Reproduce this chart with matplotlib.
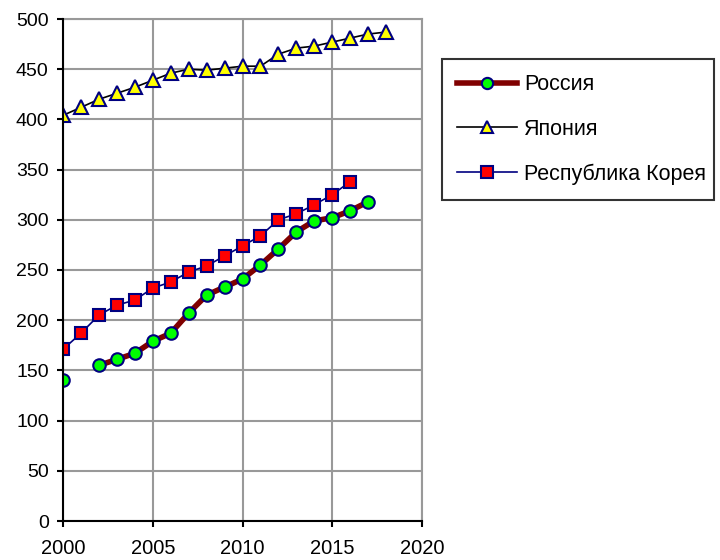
import matplotlib
matplotlib.use("Agg")
import matplotlib.pyplot as plt
import numpy as np

plt.rcParams['font.family'] = ['Liberation Sans', 'DejaVu Sans']

# data (2001 has no value for Russia)
years_ru = list(range(2000, 2018))
russia = [140, np.nan, 155, 161, 167, 179, 187, 207, 225, 233, 241,
          255, 271, 288, 299, 302, 309, 318]

years_jp = list(range(2000, 2019))
japan = [404, 412, 420, 426, 432, 439, 446, 450, 449, 451,
         453, 453, 465, 471, 473, 477, 481, 485, 487]

years_kr = list(range(2000, 2017))
korea = [171, 187, 205, 215, 220, 232, 238, 248, 254, 264,
         274, 284, 300, 306, 315, 325, 338]

labels = ["Россия", "Япония", "Республика Корея"]

fig = plt.figure(figsize=(7.2, 5.6), dpi=100)
ax = fig.add_axes([63 / 720, 39 / 560, 359 / 720, 502 / 560])

ax.plot(years_ru, russia, color='#800000', lw=4, marker='o', ms=9,
        mfc='#00ff00', mec='#000080', mew=1.5, label=labels[0], zorder=3)
ax.plot(years_jp, japan, color='black', lw=1.2, marker='^', ms=10,
        mfc='#ffff00', mec='#000080', mew=1.5, label=labels[1], zorder=3)
ax.plot(years_kr, korea, color='#000080', lw=1.2, marker='s', ms=9,
        mfc='#ff0000', mec='#000080', mew=1.5, label=labels[2], zorder=3)

ax.set_xlim(2000, 2020)
ax.set_ylim(0, 500)
ax.set_xticks(range(2000, 2021, 5))
ax.set_yticks(range(0, 501, 50))
ax.grid(True, color='#999999', lw=1.5)
ax.set_axisbelow(True)

for s in ['top', 'right']:
    ax.spines[s].set_color('#999999')
    ax.spines[s].set_linewidth(1.5)
for s in ['left', 'bottom']:
    ax.spines[s].set_color('black')
    ax.spines[s].set_linewidth(1.5)
    ax.spines[s].set_zorder(4)

ax.tick_params(axis='both', length=4.3, width=1.5, direction='out')
ax.tick_params(axis='y', labelsize=14, pad=6)
ax.tick_params(axis='x', labelsize=14.5, pad=9)
for lb in ax.get_xticklabels() + ax.get_yticklabels():
    lb.set_clip_on(False)

top = 1 - 59 / 560
leg = ax.legend(loc='upper left', bbox_to_anchor=(442 / 720, top - 0.1, 272 / 720, 0.1),
                bbox_transform=fig.transFigure, mode='expand', fontsize=15.5,
                frameon=True, fancybox=False, borderpad=0.7, labelspacing=1.1,
                handlelength=2.8, handletextpad=0.3, borderaxespad=0, markerscale=0.9)
leg.get_frame().set_edgecolor('black')
leg.get_frame().set_linewidth(1.5)

fig.savefig("out.png", dpi=100)
